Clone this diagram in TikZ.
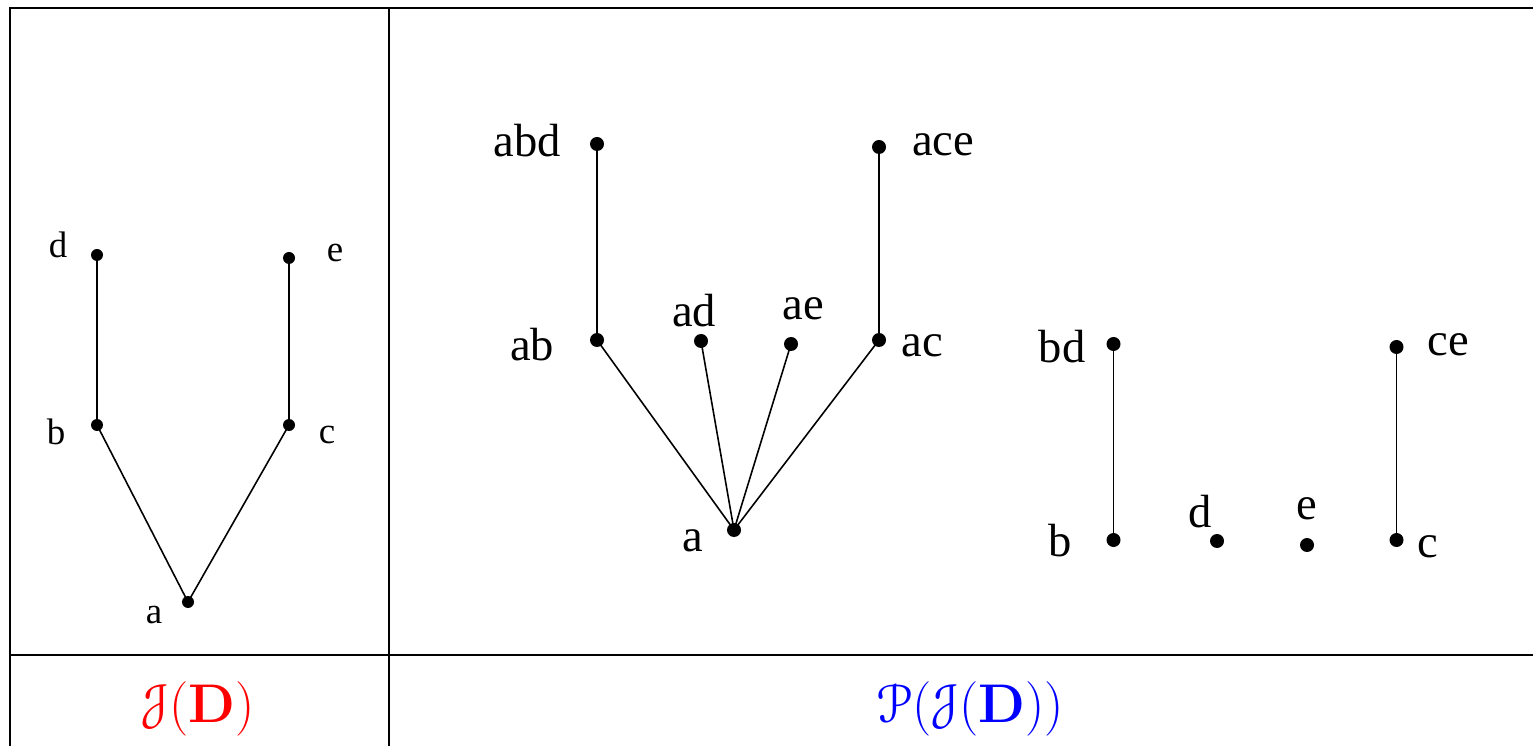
\RequirePackage{fix-cm}
\documentclass[tikz,border=0pt]{standalone}
\usepackage{amsmath}
\usepackage[mathcal]{eucal}
\usepackage[no-math]{fontspec}
\setmainfont{Liberation Serif}
\usepackage{tikz}
\definecolor{posetred}{RGB}{255,0,0}
\definecolor{posetblue}{RGB}{0,0,255}

\begin{document}
\begin{tikzpicture}[
  dot/.style={circle,fill=black,inner sep=0pt,minimum size=0.24cm},
  bigdot/.style={circle,fill=black,inner sep=0pt,minimum size=0.28cm},
  edge/.style={line width=0.9pt},
  small/.style={anchor=base,font=\fontsize{21}{25}\selectfont},
  big/.style={anchor=base,font=\fontsize{26.5}{30}\selectfont},
  caption/.style={anchor=base,font=\fontsize{31}{36}\selectfont}]
\useasboundingbox (0,0) rectangle (30.66,14.92);
% Table frame
\draw[line width=1.1pt] (0.2,0) -- (0.2,14.76) -- (30.66,14.76);
\draw[line width=1.1pt] (7.78,0) -- (7.78,14.76);
\draw[line width=1.1pt] (0.2,1.82) -- (30.66,1.82);

% Left poset
\node[dot] (jd) at (1.94,9.82) {};
\node[dot] (je) at (5.78,9.76) {};
\node[dot] (jb) at (1.94,6.42) {};
\node[dot] (jc) at (5.78,6.42) {};
\node[dot] (ja) at (3.76,2.88) {};
\node[small] (jd-lbl) at (1.16,9.76) {d};
\node[small] (je-lbl) at (6.70,9.68) {e};
\node[small] (jb-lbl) at (1.12,6.02) {b};
\node[small] (jc-lbl) at (6.54,6.04) {c};
\node[small] (ja-lbl) at (3.08,2.46) {a};
\draw[edge] (jd.center) -- (jb.center);
\draw[edge] (je.center) -- (jc.center);
\draw[edge] (jb.center) -- (ja.center);
\draw[edge] (jc.center) -- (ja.center);

% Right poset: tree on a
\node[bigdot] (pabd) at (11.94,12.04) {};
\node[bigdot] (pace) at (17.58,11.98) {};
\node[bigdot] (pab) at (11.94,8.12) {};
\node[bigdot] (pad) at (14.02,8.10) {};
\node[bigdot] (pae) at (15.82,8.04) {};
\node[bigdot] (pac) at (17.58,8.12) {};
\node[bigdot] (pa) at (14.68,4.32) {};
\node[big] (pabd-lbl) at (10.54,11.78) {abd};
\node[big] (pace-lbl) at (18.86,11.80) {ace};
\node[big] (pab-lbl) at (10.64,7.70) {ab};
\node[big] (pad-lbl) at (13.88,8.38) {ad};
\node[big] (pae-lbl) at (16.06,8.52) {ae};
\node[big] (pac-lbl) at (18.44,7.78) {ac};
\node[big] (pa-lbl) at (13.86,3.88) {a};
\draw[edge] (pabd.center) -- (pab.center);
\draw[edge] (pace.center) -- (pac.center);
\foreach \n in {pab,pad,pae,pac}
  \draw[edge] (\n.center) -- (pa.center);

% Right poset: the rest
\node[bigdot] (pbd) at (22.27,8.04) {};
\node[bigdot] (pce) at (27.93,7.98) {};
\node[bigdot] (pb) at (22.27,4.12) {};
\node[bigdot] (pd) at (24.34,4.10) {};
\node[bigdot] (pe) at (26.14,4.02) {};
\node[bigdot] (pc) at (27.93,4.12) {};
\node[big] (pbd-lbl) at (21.24,7.66) {bd};
\node[big] (pce-lbl) at (28.96,7.80) {ce};
\node[big] (pb-lbl) at (21.20,3.80) {b};
\node[big] (pd-lbl) at (24.00,4.38) {d};
\node[big] (pe-lbl) at (26.14,4.54) {e};
\node[big] (pc-lbl) at (28.56,3.78) {c};
\draw[edge] (pbd.center) -- (pb.center);
\draw[edge] (pce.center) -- (pc.center);

% Captions
\node[caption,text=posetred] (cap-j) at (3.96,0.48) {$\mathcal{J}(\mathbf{D})$};
\node[caption,text=posetblue] (cap-p) at (19.40,0.48) {$\mathcal{P}(\mathcal{J}(\mathbf{D}))$};
\end{tikzpicture}
\end{document}
